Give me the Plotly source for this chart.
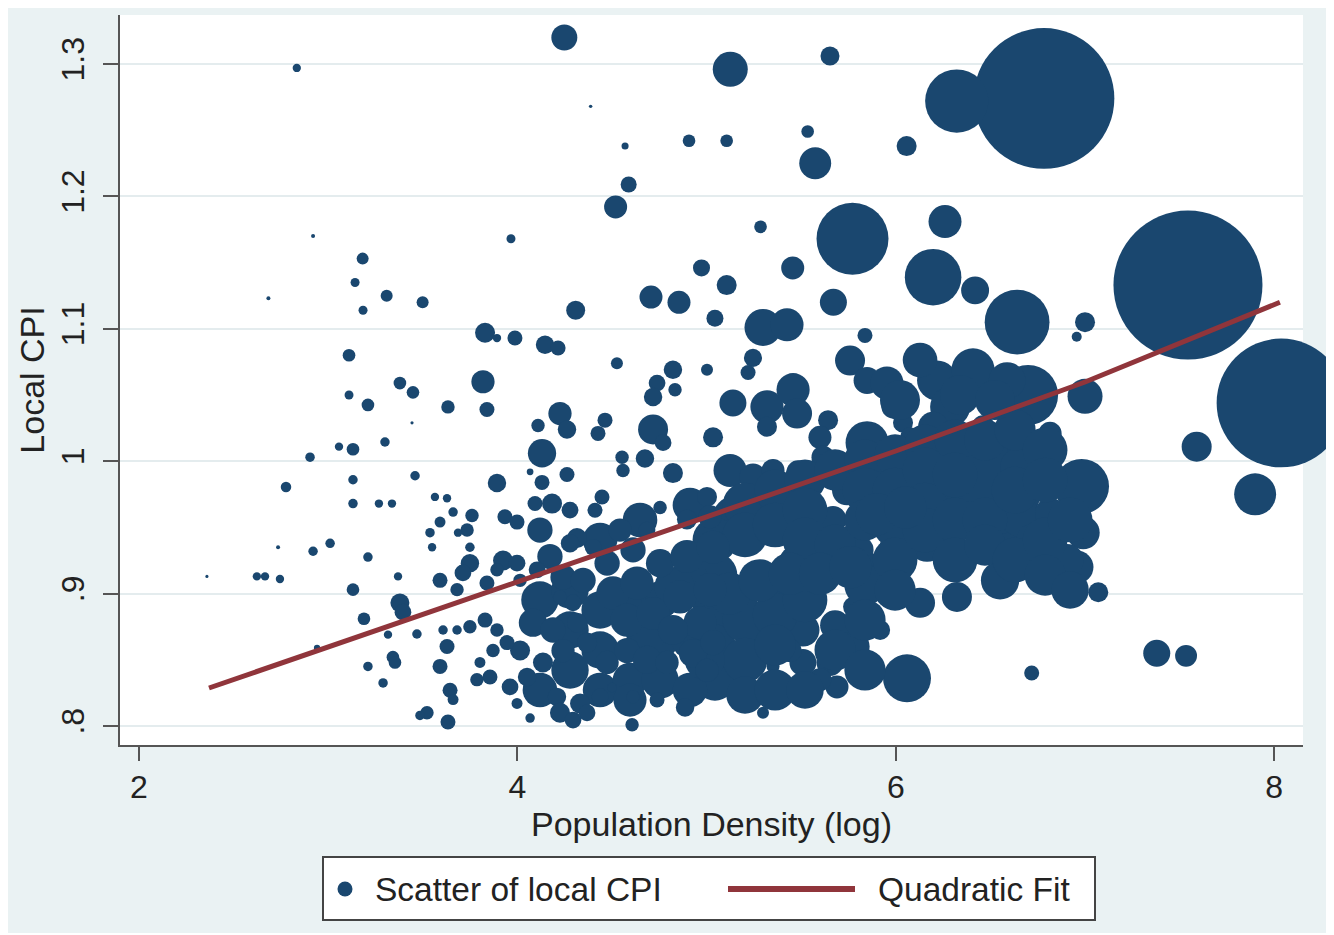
import plotly.graph_objects as go

# ---------------- data (log population density, local CPI, population weight) ----------------
# upper-left sparse cities
ul_x = [2.834, 2.920, 3.182, 3.142, 3.309, 3.499, 3.184, 2.684, 3.966]
ul_y = [1.297, 1.170, 1.153, 1.135, 1.125, 1.120, 1.114, 1.123, 1.168]
ul_w = [0.69, 0.16, 1.44, 0.81, 1.44, 1.44, 0.81, 0.16, 0.81]

# upper-middle cities
um_x = [4.248, 5.125, 5.652, 4.387, 4.569, 4.907, 5.106, 5.534, 6.057, 5.574, 4.588, 4.519,
        5.285, 5.771, 4.973, 5.455, 5.106, 4.706, 4.854, 4.308, 5.044, 5.670, 5.298, 5.425]
um_y = [1.320, 1.296, 1.306, 1.268, 1.238, 1.242, 1.242, 1.249, 1.238, 1.225, 1.209, 1.192,
        1.177, 1.168, 1.146, 1.146, 1.133, 1.124, 1.120, 1.114, 1.108, 1.120, 1.101, 1.103]
um_w = [6.76, 12.25, 3.61, 0.12, 0.5, 1.6, 1.6, 1.6, 4.0, 10.2, 2.56, 5.3,
        1.6, 51.8, 2.9, 5.3, 4.0, 5.3, 5.3, 3.6, 2.9, 7.3, 13.7, 10.9]

# right-hand large cities
ur_x = [6.783, 6.322, 6.260, 6.197, 6.419, 7.544, 8.036, 7.000, 6.956, 6.641, 6.699, 7.000,
        7.590, 7.899, 6.982, 7.379, 7.534, 6.718, 7.070, 6.990, 6.957, 6.588]
ur_y = [1.274, 1.272, 1.181, 1.139, 1.129, 1.133, 1.044, 1.105, 1.094, 1.105, 1.050, 1.049,
        1.011, 0.975, 0.981, 0.855, 0.853, 0.840, 0.901, 0.946, 0.920, 0.9125]
ur_w = [198, 40, 10.9, 32, 7.8, 222, 166, 4.0, 1.0, 42, 36, 12.25,
        9.0, 17.6, 30, 7.3, 4.8, 2.25, 4.0, 11, 11, 5.4]

# dense core, right part
dr_x = [5.837, 5.245, 5.219, 5.139, 5.319, 5.457, 5.478, 5.319, 5.758, 5.848, 5.953, 5.985,
        6.038, 5.642, 5.599, 5.615, 5.848, 6.075, 6.218, 6.408, 6.588, 6.287, 6.461, 6.197,
        5.124, 5.245, 5.351, 5.483, 5.139, 5.425, 5.668, 5.774, 5.811, 5.901, 5.827, 5.774,
        5.917, 5.774, 5.652, 5.689, 5.599, 5.509, 6.059, 5.298, 5.351, 5.139, 5.245, 5.161,
        5.372, 5.478, 5.509, 5.441, 5.478, 5.985, 6.165, 6.128, 6.323, 6.551, 6.038, 6.302,
        6.128, 5.917, 5.742, 6.302, 6.588, 6.509, 5.679, 6.657, 6.657, 6.725, 6.815, 6.905,
        6.815]
dr_y = [1.095, 1.078, 1.067, 1.044, 1.041, 1.054, 1.036, 1.026, 1.076, 1.061, 1.059, 1.041,
        1.029, 1.031, 1.018, 1.003, 1.014, 1.018, 1.061, 1.069, 1.061, 1.041, 1.026, 1.026,
        0.993, 0.988, 0.993, 0.992, 0.958, 0.968, 0.956, 0.946, 0.933, 0.918, 0.8975, 0.890,
        0.8725, 0.860, 0.848, 0.8295, 0.835, 0.848, 0.836, 0.810, 0.845, 0.837, 0.8725, 0.885,
        0.8975, 0.923, 0.8725, 0.857, 0.9405, 0.935, 0.938, 0.893, 0.8975, 0.910, 0.958, 0.973,
        0.986, 0.9805, 0.978, 0.9986, 0.943, 0.982, 0.876, 0.9956, 0.958, 0.9405, 0.961, 0.925,
        1.021]
dr_w = [2.25, 3.3, 2.25, 7.3, 11, 11, 9, 4, 9, 7.3, 11, 5.3,
        4, 4, 5.3, 5.3, 18.5, 4, 16, 18.5, 13.4, 16, 5.3, 9,
        11, 7.3, 5.3, 5.3, 16, 11, 7.3, 4, 7.3, 11, 5.3, 4,
        4, 11, 7.3, 5.3, 5.3, 7.3, 23, 1.44, 1.7, 4, 11, 11,
        11, 13.4, 11, 5.3, 4, 7.3, 13.7, 9, 9, 14.7, 13.4, 18.8,
        11, 11, 9, 11, 7.3, 100, 9, 16, 16, 11, 9, 11,
        5.4]

# dense core, hidden/overlapping cities that make the solid mass
core_x = [5.044, 5.044, 5.044, 5.044, 5.044,
          5.203, 5.203, 5.203, 5.203, 5.203,
          5.362, 5.362, 5.362, 5.362, 5.362,
          5.520, 5.520, 5.520, 5.520, 5.520,
          5.679, 5.679, 5.679,
          5.837, 5.837, 5.837, 5.837, 5.837, 5.837,
          5.996, 5.996, 5.996, 5.996, 5.996,
          6.154, 6.154, 6.154, 6.154,
          6.313, 6.313, 6.313, 6.313,
          6.471, 6.471, 6.471,
          6.630, 6.630, 6.630,
          6.789, 6.789, 6.789, 6.789,
          6.921, 6.921,
          4.119, 4.119, 4.278, 4.278, 4.278, 4.437, 4.437, 4.437, 4.595, 4.595, 4.595,
          4.754, 4.754, 4.754, 4.912, 4.912, 4.912, 4.648, 4.912, 4.437,
          6.022, 6.339, 6.524, 6.128,
          5.120, 5.280, 5.440, 5.600, 5.760, 4.830, 4.990, 4.680, 5.900, 6.050]
core_y = [0.9405, 0.914, 0.8876, 0.8612, 0.8347,
          0.9669, 0.9443, 0.8801, 0.8498, 0.8234,
          0.9782, 0.9518, 0.8838, 0.8612, 0.8272,
          0.9858, 0.9631, 0.9405, 0.8952, 0.8272,
          0.9934, 0.9367, 0.8574,
          1.0009, 0.9782, 0.9556, 0.9065, 0.8801, 0.8423,
          1.0047, 0.9782, 0.9518, 0.9254, 0.9027,
          1.0122, 0.9934, 0.9669, 0.948,
          1.016, 0.9896, 0.9556, 0.9254,
          1.016, 0.9556, 0.9367,
          1.0236, 0.9782, 0.9254,
          1.0085, 0.9858, 0.9405, 0.914,
          0.9556, 0.9027,
          0.8952, 0.8272, 0.9027, 0.8725, 0.8423, 0.8876, 0.8574, 0.8272, 0.8952, 0.8347, 0.8196,
          0.8952, 0.8650, 0.8347, 0.9103, 0.8650, 0.8272, 0.9556, 0.9669, 0.9405,
          1.0462, 1.050, 1.0462, 1.0764,
          0.900, 0.910, 0.915, 0.915, 0.920, 0.905, 0.850, 0.870, 0.960, 0.965]
core_w = [20, 20, 20, 17, 17,
          20, 20, 20, 20, 14,
          17, 20, 20, 17, 17,
          17, 20, 20, 20, 14,
          17, 17, 17,
          17, 20, 17, 17, 17, 17,
          17, 20, 20, 20, 17,
          17, 20, 20, 20,
          17, 20, 20, 20,
          17, 20, 17,
          17, 22, 20,
          20, 20, 20, 17,
          20, 14,
          14, 12, 14, 14, 14, 14, 14, 12, 14, 12, 11,
          14, 14, 14, 14, 14, 12, 12, 12, 12,
          16, 16, 16, 12,
          18, 18, 18, 18, 18, 16, 16, 16, 18, 18]

# dense core, left/middle part
dm_x = [3.829, 3.892, 3.987, 4.146, 4.215, 4.526, 3.818, 3.633, 3.839, 4.822, 5.002, 4.738,
        4.717, 4.833, 4.225, 4.262, 4.109, 4.463, 4.426, 4.717, 4.770, 5.034, 4.130, 4.067,
        4.130, 4.262, 3.892, 4.553, 4.558, 4.674, 4.822, 3.564, 3.628, 3.660, 3.591, 3.538,
        3.549, 3.760, 3.734, 3.686, 3.749, 3.934, 3.998, 4.093, 4.183, 4.278, 4.447, 4.410,
        4.542, 4.119, 4.315, 4.754, 3.749, 3.712, 3.591, 3.681, 3.924, 3.998, 3.839, 3.892,
        4.172, 4.278, 4.400, 4.104, 4.014, 4.241, 4.347, 4.474, 4.611, 4.685, 4.896, 5.002,
        5.018, 4.754, 4.896, 5.034, 4.505, 4.632, 4.579, 4.717, 4.859, 5.018, 4.965, 4.822,
        4.294, 4.225, 4.082, 4.188, 4.315, 4.368, 4.241, 4.135, 4.014, 4.051, 3.961, 4.209,
        4.225, 4.331, 4.437, 4.368, 4.294, 4.474, 4.579, 4.685, 4.791, 4.928, 5.034, 5.002,
        4.611, 4.738, 4.886, 4.606, 4.500, 4.067, 3.998, 3.855, 3.871, 3.802, 3.786, 3.644,
        3.660, 3.633, 3.591, 3.628, 3.607, 3.749, 3.829, 3.892, 3.945, 3.681, 3.522]
dm_y = [1.097, 1.093, 1.093, 1.088, 1.0855, 1.074, 1.060, 1.041, 1.039, 1.069, 1.069, 1.059,
        1.0485, 1.054, 1.036, 1.024, 1.027, 1.031, 1.021, 1.024, 1.014, 1.018, 1.006, 0.992,
        0.984, 0.990, 0.9835, 1.003, 0.993, 1.002, 0.991, 0.973, 0.972, 0.9616, 0.954, 0.946,
        0.935, 0.959, 0.948, 0.946, 0.935, 0.958, 0.954, 0.968, 0.968, 0.963, 0.973, 0.963,
        0.948, 0.948, 0.942, 0.965, 0.923, 0.9156, 0.910, 0.903, 0.925, 0.923, 0.908, 0.918,
        0.928, 0.938, 0.935, 0.918, 0.910, 0.9125, 0.910, 0.923, 0.933, 0.948, 0.956, 0.973,
        0.958, 0.923, 0.928, 0.935, 0.9005, 0.908, 0.880, 0.885, 0.8975, 0.903, 0.878, 0.8725,
        0.893, 0.8975, 0.878, 0.8725, 0.878, 0.863, 0.857, 0.848, 0.857, 0.837, 0.8295, 0.822,
        0.810, 0.817, 0.822, 0.810, 0.8045, 0.848, 0.857, 0.850, 0.848, 0.855, 0.863, 0.842,
        0.822, 0.8196, 0.814, 0.801, 0.829, 0.806, 0.817, 0.837, 0.857, 0.848, 0.835, 0.827,
        0.820, 0.803, 0.845, 0.860, 0.8725, 0.875, 0.880, 0.8725, 0.863, 0.8725, 0.810]
dm_w = [4, 0.7, 2.25, 3.4, 2.25, 1.44, 5.4, 1.8, 2.25, 3.4, 1.44, 2.8,
        3.4, 1.8, 5.4, 3.4, 1.8, 2.25, 2.25, 9, 2.8, 4, 8, 0.45,
        2.25, 2.25, 3.4, 1.8, 1.8, 3.4, 4, 0.7, 0.7, 0.9, 1.2, 0.9,
        0.7, 1.8, 1.8, 0.7, 0.9, 2.25, 2.25, 2.25, 4, 2.8, 2.25, 2.25,
        5.4, 6.4, 4, 1.8, 3.4, 2.8, 2.25, 1.8, 4, 2.8, 2.25, 1.8,
        6.4, 3.4, 2.8, 2.8, 1.8, 6.4, 6.4, 6.4, 6.4, 2.8, 4, 4,
        5.4, 8, 11, 11, 11, 11, 11, 11, 11, 11, 11, 9,
        2.8, 1.8, 8, 6.4, 4, 4, 5.4, 4, 4, 3.4, 2.8, 3.4,
        4, 4, 2.8, 2.8, 2.8, 5.4, 6.4, 8, 5.4, 8, 6.4, 5.4,
        1.8, 2.25, 3.4, 1.8, 0.9, 0.9, 1.2, 2.25, 1.8, 1.2, 1.8, 2.25,
        1.2, 2.25, 2.25, 2.25, 0.9, 1.8, 2.25, 1.8, 2.25, 0.9, 1.8]

# left sparse cities
ls_x = [3.110, 3.110, 3.210, 3.379, 3.448, 3.443, 3.300, 3.057, 3.131, 2.904, 3.131, 3.459,
        2.777, 3.131, 3.268, 3.337, 2.735, 2.920, 3.010, 3.210, 2.359, 2.623, 2.666, 2.745,
        3.369, 3.131, 3.379, 3.395, 3.189, 3.316, 3.469, 2.941, 3.342, 3.353, 3.210, 3.290,
        3.485]
ls_y = [1.080, 1.050, 1.0425, 1.059, 1.052, 1.029, 1.0145, 1.011, 1.009, 1.003, 0.986, 0.989,
        0.9805, 0.968, 0.968, 0.968, 0.935, 0.932, 0.938, 0.9276, 0.913, 0.913, 0.913, 0.911,
        0.913, 0.903, 0.893, 0.886, 0.881, 0.869, 0.8695, 0.859, 0.852, 0.848, 0.845, 0.8325,
        0.808]
ls_w = [1.6, 0.8, 1.6, 1.6, 1.6, 0.1, 0.9, 0.7, 1.6, 0.9, 0.9, 0.9,
        1.1, 0.9, 0.7, 0.7, 0.16, 0.9, 0.9, 0.9, 0.1, 0.7, 0.7, 0.7,
        0.7, 1.6, 3.6, 2.8, 1.6, 0.7, 0.9, 0.4, 1.6, 1.6, 0.9, 0.9,
        0.9]

# quadratic fit line
fit_x = [2.37, 3.0, 4.0, 5.0, 6.0, 7.0, 8.03]
fit_y = [0.8287, 0.8597, 0.908, 0.958, 1.0077, 1.0598, 1.120]

x_ticks = [2, 4, 6, 8]
y_ticks = [0.8, 0.9, 1.0, 1.1, 1.2, 1.3]
y_tick_text = [".8", ".9", "1", "1.1", "1.2", "1.3"]

# ---------------- styling ----------------
NAVY = "#1a476f"
MAROON = "#90353b"
BG = "#eaf2f3"
AXIS = "#555555"
TEXT = "#222222"
FONT = "Liberation Sans, Arial, Helvetica, sans-serif"

xs = ul_x + um_x + ur_x + dr_x + core_x + dm_x + ls_x
ys = ul_y + um_y + ur_y + dr_y + core_y + dm_y + ls_y
ws = ul_w + um_w + ur_w + dr_w + core_w + dm_w + ls_w

fig = go.Figure()
fig.add_trace(go.Scatter(
    x=xs, y=ys, mode="markers", name="Scatter of local CPI",
    marker=dict(size=ws, sizemode="area", sizeref=0.02, color=NAVY,
                line=dict(width=0), opacity=1),
    cliponaxis=False, showlegend=False, hoverinfo="skip"))
fig.add_trace(go.Scatter(
    x=fit_x, y=fit_y, mode="lines", name="Quadratic Fit",
    line=dict(color=MAROON, width=5), cliponaxis=False, showlegend=False,
    hoverinfo="skip"))

# page has an 8px body margin; the figure is sized so its plot area sits at
# page pixels x 120..1303, y 15..745
OFF = 8
PL, PR, PT, PB = 120, 1303, 15, 745
def px(p):
    return (p - PL) / (PR - PL)
def py(p):
    return (PB - p) / (PB - PT)

shapes = [
    # outer graph region
    dict(type="rect", xref="paper", yref="paper", x0=px(0), x1=px(1340),
         y0=py(933), y1=py(0), fillcolor=BG, line=dict(width=0), layer="below"),
    # plot region
    dict(type="rect", xref="paper", yref="paper", x0=0, x1=1, y0=0, y1=1,
         fillcolor="white", line=dict(width=0), layer="below"),
    # legend box
    dict(type="rect", xref="paper", yref="paper", x0=px(323), x1=px(1095),
         y0=py(920), y1=py(857), fillcolor="white", line=dict(color="#444444", width=2),
         layer="above"),
    # legend marker
    dict(type="circle", xref="paper", yref="paper", x0=px(337.5), x1=px(352.5),
         y0=py(896.5), y1=py(881.5), fillcolor=NAVY, line=dict(width=0), layer="above"),
    # legend line
    dict(type="line", xref="paper", yref="paper", x0=px(728), x1=px(855),
         y0=py(889), y1=py(889), line=dict(color=MAROON, width=6), layer="above"),
]

annotations = [
    dict(text="Scatter of local CPI", xref="paper", yref="paper", x=px(373), y=py(889),
         xanchor="left", yanchor="middle", showarrow=False,
         font=dict(size=33.5, family=FONT, color=TEXT)),
    dict(text="Quadratic Fit", xref="paper", yref="paper", x=px(876), y=py(889),
         xanchor="left", yanchor="middle", showarrow=False,
         font=dict(size=33.5, family=FONT, color=TEXT)),
]

fig.update_layout(
    width=1334 - OFF, height=935 - OFF,
    margin=dict(l=PL - OFF, r=1334 - PR, t=PT - OFF, b=935 - PB, pad=0),
    paper_bgcolor="white", plot_bgcolor="white",
    font=dict(family=FONT, color=TEXT, size=32),
    shapes=shapes, annotations=annotations, showlegend=False,
    xaxis=dict(
        range=[1.8996, 8.152], tickvals=x_ticks, ticktext=[str(v) for v in x_ticks],
        ticks="outside", ticklen=14, tickwidth=2, tickcolor=AXIS,
        showline=True, linecolor=AXIS, linewidth=2, showgrid=False, zeroline=False,
        tickfont=dict(size=32), ticklabelstandoff=-1,
        title=dict(text="Population Density (log)", font=dict(size=34), standoff=3),
    ),
    yaxis=dict(
        range=[0.78565, 1.337], tickvals=y_ticks, ticktext=y_tick_text, tickangle=-90,
        ticks="outside", ticklen=15, tickwidth=2, tickcolor=AXIS,
        showline=True, linecolor=AXIS, linewidth=2, showgrid=True, gridcolor="#e4ecee",
        gridwidth=2, zeroline=False, tickfont=dict(size=32), ticklabelstandoff=6,
        title=dict(text="Local CPI", font=dict(size=34), standoff=0),
    ),
)

fig.write_html("out.html")
